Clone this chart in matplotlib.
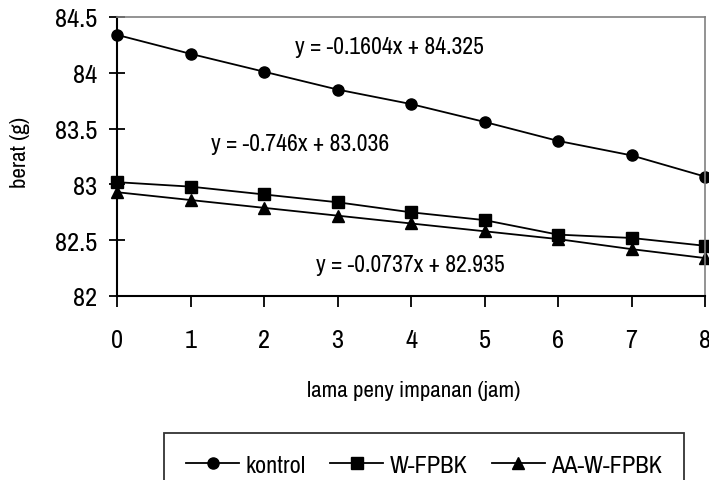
import matplotlib
matplotlib.use("Agg")
import matplotlib.pyplot as plt
from matplotlib import font_manager

names = {f.name for f in font_manager.fontManager.ttflist}
fam = ["Archivo Narrow", "Liberation Sans Narrow", "Roboto Condensed", "Liberation Sans", "DejaVu Sans"]
fam = [f for f in fam if f in names] + ["DejaVu Sans"]
plt.rcParams['font.family'] = fam

hours = [0, 1, 2, 3, 4, 5, 6, 7, 8]
kontrol = [84.34, 84.17, 84.01, 83.85, 83.72, 83.56, 83.39, 83.26, 83.07]
w_fpbk = [83.02, 82.98, 82.91, 82.84, 82.75, 82.68, 82.55, 82.52, 82.45]
aa_w_fpbk = [82.93, 82.86, 82.79, 82.72, 82.65, 82.58, 82.51, 82.42, 82.34]
series_names = ["kontrol", "W-FPBK", "AA-W-FPBK"]
equations = ["y = -0.1604x + 84.325", "y = -0.746x + 83.036", "y = -0.0737x + 82.935"]
yticks = [82, 82.5, 83, 83.5, 84, 84.5]
yticklabels = ["82", "82.5", "83", "83.5", "84", "84.5"]

fig = plt.figure(figsize=(7.09, 4.81), dpi=100)
ax = fig.add_axes([117/709, 1-297/481, (705-117)/709, (297-18)/481])

markers = ['o', 's', '^']
for data, name, m in zip([kontrol, w_fpbk, aa_w_fpbk], series_names, markers):
    ax.plot(hours, data, color='black', lw=1.3, marker=m, markersize=8, label=name, clip_on=False)

ax.set_xlim(0, 8)
ax.set_ylim(82, 84.5)
ax.set_xticks(hours)
ax.set_xticklabels([str(h) for h in hours])
ax.set_yticks(yticks)
ax.set_yticklabels(yticklabels)
ax.tick_params(axis='both', width=1.3, labelsize=19)
ax.tick_params(axis='x', direction='out', length=8, pad=15)
ax.tick_params(axis='y', direction='inout', length=12, pad=8)
for s in ['left', 'bottom']:
    ax.spines[s].set_linewidth(1.5)
for s in ['top', 'right']:
    ax.spines[s].set_color('#808080')
    ax.spines[s].set_linewidth(1.2)

eq_pos = [(389, 48), (300, 145), (410, 266)]
for eq, (px, py) in zip(equations, eq_pos):
    fig.text(px/709, 1-py/481, eq, ha='center', va='center', fontsize=17)

fig.text(414/709, 1-391/481, "lama peny impanan (jam)", ha='center', va='center', fontsize=16.5)
fig.text(20/709, 1-152/481, "berat (g)", ha='center', va='center', rotation=90, fontsize=16.5)

leg = fig.legend(loc='upper left', bbox_to_anchor=(164/709, 1-434/481), ncol=3, frameon=True,
                 fancybox=False, edgecolor='black', fontsize=17.5, handlelength=2.2,
                 columnspacing=1.0, borderpad=0.9, handletextpad=0.25, borderaxespad=0)
leg.get_frame().set_linewidth(1.3)

fig.savefig("out.png", dpi=100)
